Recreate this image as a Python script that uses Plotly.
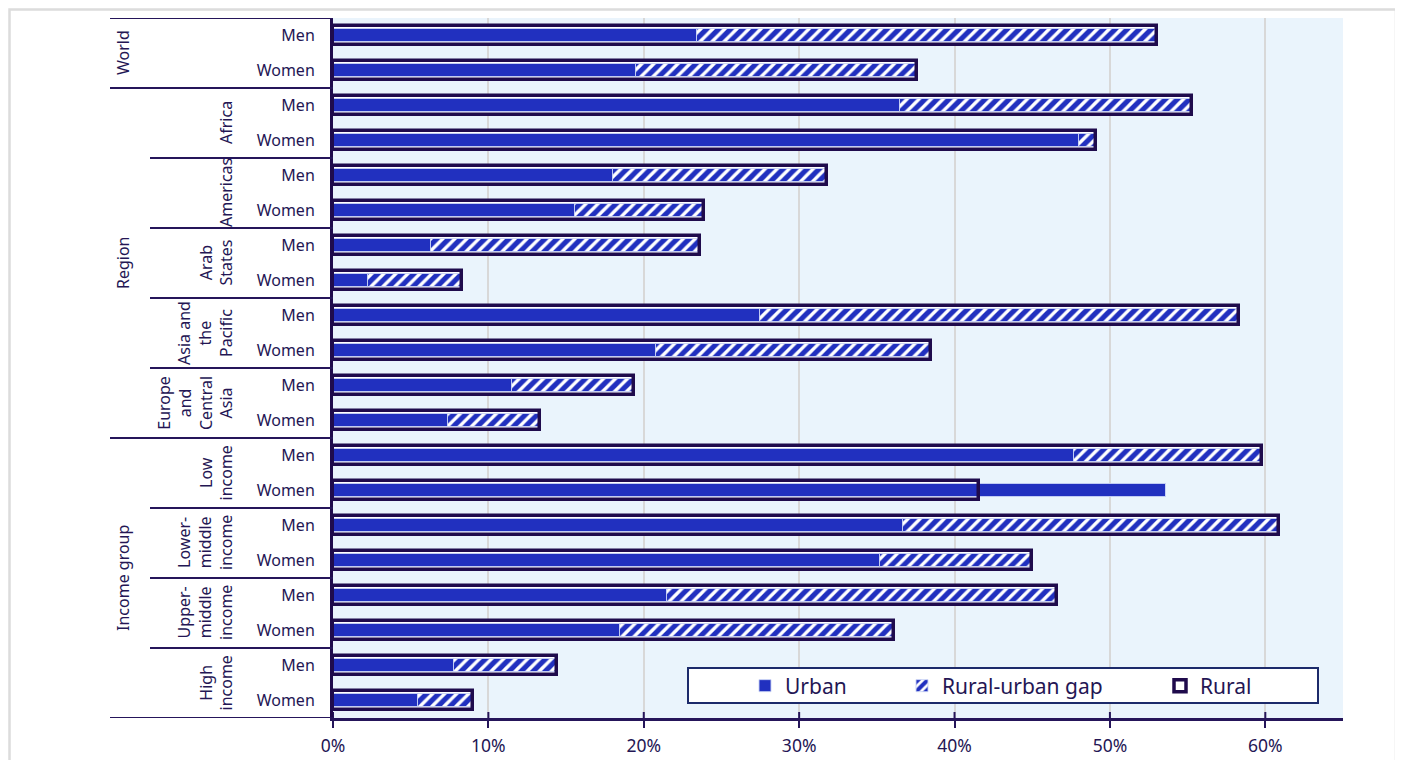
import plotly.graph_objects as go

# ---------------- data ----------------
groups = ["World", "World",
          "Region", "Region", "Region", "Region", "Region", "Region",
          "Region", "Region", "Region", "Region",
          "Income group", "Income group", "Income group", "Income group",
          "Income group", "Income group", "Income group", "Income group"]
subgroups = ["", "",
             "Africa", "Africa", "Americas", "Americas", "Arab<br>States", "Arab<br>States",
             "Asia and<br>the<br>Pacific", "Asia and<br>the<br>Pacific",
             "Europe<br>and<br>Central<br>Asia", "Europe<br>and<br>Central<br>Asia",
             "Low<br>income", "Low<br>income",
             "Lower-<br>middle<br>income", "Lower-<br>middle<br>income",
             "Upper-<br>middle<br>income", "Upper-<br>middle<br>income",
             "High<br>income", "High<br>income"]
sex = ["Men", "Women"] * 10
urban = [23.4, 19.5, 36.5, 48.0, 18.0, 15.6, 6.3, 2.25, 27.5, 20.8,
         11.5, 7.4, 47.7, 53.6, 36.7, 35.2, 21.5, 18.5, 7.8, 5.5]
rural = [53.0, 37.6, 55.3, 49.1, 31.8, 23.9, 23.6, 8.3, 58.3, 38.5,
         19.4, 13.3, 59.8, 41.6, 60.9, 45.0, 46.6, 36.1, 14.4, 9.0]
x_ticks = [0, 10, 20, 30, 40, 50, 60]
x_tick_labels = ["0%", "10%", "20%", "30%", "40%", "50%", "60%"]

# ---------------- styles ----------------
BLUE = "#2130bf"
DARK = "#1f0b4c"
TEXT = "#241654"
LINE = "#25155a"
PLOT_BG = "#eaf4fc"
FONT = "Noto Sans"

rows = list(range(len(sex)))
gap = [max(r - u, 0) for r, u in zip(rural, urban)]

fig = go.Figure()

# white background of the rural box
fig.add_trace(go.Bar(
    y=rows, x=rural, orientation="h", width=0.53,
    marker=dict(color="white", line=dict(width=0)),
    showlegend=False, hoverinfo="skip"))

# urban
fig.add_trace(go.Bar(
    y=rows, x=urban, orientation="h", width=0.37, name="Urban",
    marker=dict(color=BLUE, line=dict(color="rgba(200,210,245,0.9)", width=1)),
    legend="legend", legendrank=1))

# rural-urban gap (hatched)
fig.add_trace(go.Bar(
    y=rows, x=gap, base=urban, orientation="h", width=0.37, name="Rural-urban gap",
    marker=dict(color="white",
                line=dict(color="rgba(200,210,245,0.9)", width=1),
                pattern=dict(shape="/", fgcolor=BLUE, bgcolor="white", fgopacity=1,
                             size=8.5, solidity=0.6)),
    legend="legend2", legendrank=2))

# rural outline
fig.add_trace(go.Bar(
    y=rows, x=rural, orientation="h", width=0.53, name="Rural",
    marker=dict(color="rgba(255,255,255,0)", line=dict(color=DARK, width=3.5)),
    legend="legend3", legendrank=3))

# ---------------- layout helpers (screen pixel targets) ----------------
OFF = 8                      # page body margin
FIG_W, FIG_H = 1403 - OFF, 760 - OFF
PLOT_L, PLOT_R, PLOT_T, PLOT_B = 333, 1343, 18, 718
PW, PH = PLOT_R - PLOT_L, PLOT_B - PLOT_T


def px_x(p):
    return (p - PLOT_L) / PW


def px_y(p):
    return (PLOT_B - p) / PH


shapes = []
annotations = []

# divider lines in the label area
n = len(rows)
shapes.append(dict(type="line", xref="paper", yref="y", x0=px_x(110), x1=0,
                   y0=-0.5, y1=-0.5, line=dict(color=LINE, width=2)))
shapes.append(dict(type="line", xref="paper", yref="y", x0=px_x(110), x1=0,
                   y0=n - 0.5, y1=n - 0.5, line=dict(color=LINE, width=2)))
for i in range(1, n):
    if groups[i] != groups[i - 1]:
        shapes.append(dict(type="line", xref="paper", yref="y", x0=px_x(110), x1=0,
                           y0=i - 0.5, y1=i - 0.5, line=dict(color=LINE, width=2)))
    elif subgroups[i] != subgroups[i - 1]:
        shapes.append(dict(type="line", xref="paper", yref="y", x0=px_x(150), x1=0,
                           y0=i - 0.5, y1=i - 0.5, line=dict(color=LINE, width=2)))

# group labels
seen = []
for g in groups:
    if g not in seen:
        seen.append(g)
for g in seen:
    idx = [i for i in rows if groups[i] == g]
    annotations.append(dict(text=g, xref="paper", yref="y", x=px_x(123),
                            y=sum(idx) / len(idx), showarrow=False, textangle=-90,
                            xanchor="center", yanchor="middle",
                            font=dict(family=FONT, size=16, color=TEXT)))
seen = []
for s in subgroups:
    if s and s not in seen:
        seen.append(s)
for s in seen:
    idx = [i for i in rows if subgroups[i] == s]
    annotations.append(dict(text=s, xref="paper", yref="y", x=px_x(239),
                            y=sum(idx) / len(idx), showarrow=False, textangle=-90,
                            xanchor="right", yanchor="middle", align="center",
                            font=dict(family=FONT, size=16, color=TEXT)))

# small upward part of x ticks
for t in x_ticks:
    shapes.append(dict(type="line", xref="x", yref="paper", x0=t, x1=t,
                       y0=0, y1=6 / PH, line=dict(color=LINE, width=2)))

# legend box
shapes.append(dict(type="rect", xref="paper", yref="paper", layer="above",
                   x0=px_x(688), x1=px_x(1318), y0=px_y(703), y1=px_y(668),
                   fillcolor="white", line=dict(color="#1c2a6a", width=2)))

# outer light frame
shapes.append(dict(type="rect", xref="paper", yref="paper", layer="above",
                   x0=px_x(OFF + 1.5), x1=px_x(1396), y0=px_y(790), y1=px_y(OFF + 1.5),
                   fillcolor="rgba(0,0,0,0)", line=dict(color="#dcdcdc", width=2.5)))

legend_common = dict(orientation="h", yanchor="middle", y=px_y(686), xanchor="left",
                     bgcolor="rgba(0,0,0,0)", borderwidth=0,
                     font=dict(family=FONT, size=21, color=TEXT))

fig.update_layout(
    width=FIG_W, height=FIG_H,
    margin=dict(l=PLOT_L - OFF, r=OFF + FIG_W - PLOT_R, t=PLOT_T - OFF,
                b=OFF + FIG_H - PLOT_B, pad=0, autoexpand=False),
    paper_bgcolor="white", plot_bgcolor=PLOT_BG,
    barmode="overlay", bargap=0,
    font=dict(family=FONT, color=TEXT),
    showlegend=True,
    legend=dict(x=px_x(745), **legend_common),
    legend2=dict(x=px_x(902), **legend_common),
    legend3=dict(x=px_x(1160), **legend_common),
    xaxis=dict(range=[0, 65], tickvals=x_ticks, ticktext=x_tick_labels,
               showgrid=True, gridcolor="#d8d8d8", gridwidth=2,
               showline=True, linecolor=LINE, linewidth=2.5,
               ticks="outside", ticklen=7, tickwidth=2, tickcolor=LINE,
               ticklabelstandoff=3, zeroline=False, automargin=False,
               tickfont=dict(family=FONT, size=17.5, color=TEXT)),
    yaxis=dict(range=[n - 0.5, -0.5], tickvals=rows, ticktext=sex,
               showgrid=False, zeroline=False, automargin=False,
               showline=True, linecolor=DARK, linewidth=3,
               ticks="", ticklabelstandoff=12,
               tickfont=dict(family=FONT, size=16, color=TEXT)),
    shapes=shapes, annotations=annotations,
)

fig.write_html("out.html")
